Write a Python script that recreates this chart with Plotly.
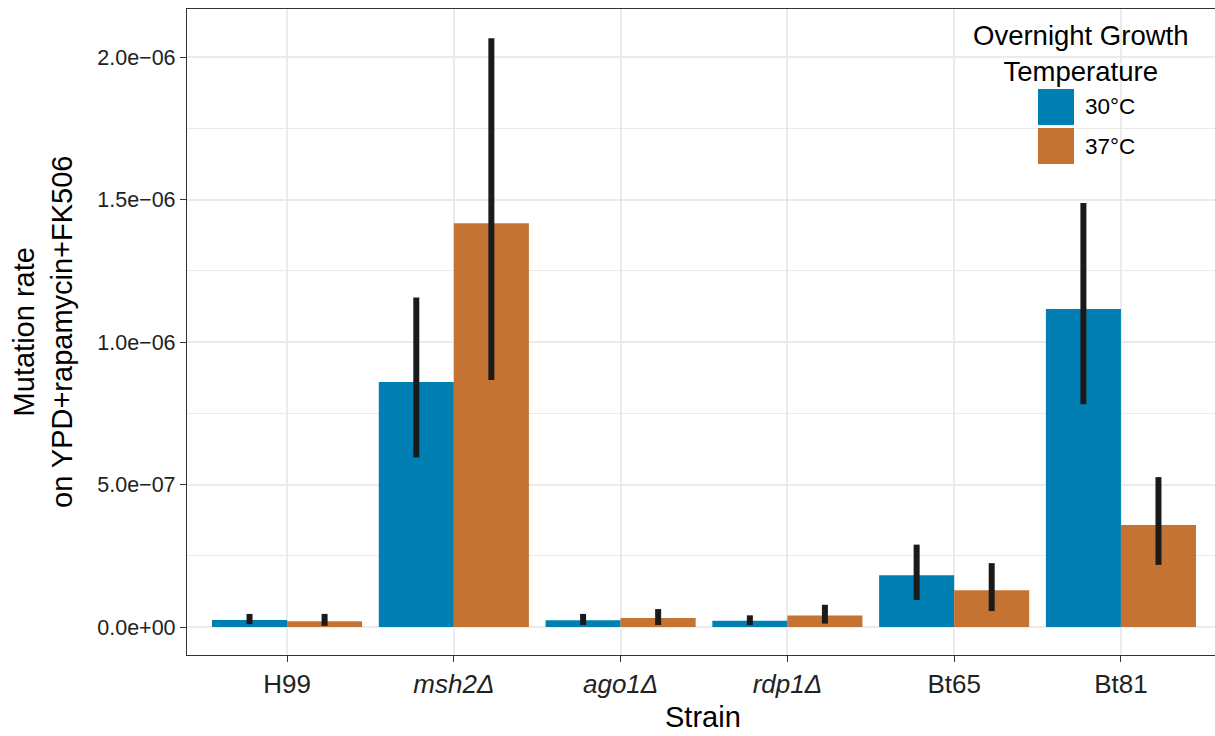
import plotly.graph_objects as go

# ---------------- data ----------------
strains = ["H99", "<i>msh2Δ</i>", "<i>ago1Δ</i>", "<i>rdp1Δ</i>", "Bt65", "Bt81"]
temps = ["30°C", "37°C"]

rate_30 = [0.025e-6, 0.860e-6, 0.024e-6, 0.022e-6, 0.182e-6, 1.116e-6]
low_30 = [0.010e-6, 0.595e-6, 0.007e-6, 0.007e-6, 0.095e-6, 0.782e-6]
high_30 = [0.046e-6, 1.156e-6, 0.046e-6, 0.041e-6, 0.289e-6, 1.488e-6]

rate_37 = [0.020e-6, 1.417e-6, 0.032e-6, 0.040e-6, 0.129e-6, 0.358e-6]
low_37 = [0.004e-6, 0.867e-6, 0.007e-6, 0.012e-6, 0.056e-6, 0.218e-6]
high_37 = [0.046e-6, 2.066e-6, 0.063e-6, 0.078e-6, 0.224e-6, 0.526e-6]

y_tickvals = [0, 0.5e-6, 1.0e-6, 1.5e-6, 2.0e-6]
y_ticktext = ["0.0e+00", "5.0e\u221207", "1.0e\u221206", "1.5e\u221206", "2.0e\u221206"]
y_minorvals = [0.25e-6, 0.75e-6, 1.25e-6, 1.75e-6]

colors = ["#0080B2", "#C57333"]
legend_title = "Overnight Growth<br>Temperature"
x_title = "Strain"
y_title = "Mutation rate<br>on YPD+rapamycin+FK506"

# ---------------- figure ----------------
# The panel in the reference runs a few pixels past the right edge of the
# 1215 px picture, so the figure is made slightly wider and the overflow hidden.
W, H = 1221, 736
L, R, T, B = 187, 0, 9, 81
PW, PH = W - L - R, H - T - B
FONT = "Liberation Sans, Arial, Helvetica, sans-serif"


def px(x):
    return (x - L) / PW


def py(y):
    return (T + PH - y) / PH


fig = go.Figure()
series = [(rate_30, low_30, high_30), (rate_37, low_37, high_37)]
for name, col, (v, lo, hi) in zip(temps, colors, series):
    fig.add_trace(go.Bar(
        x=strains, y=v, name=name, marker=dict(color=col, line=dict(width=0)),
        error_y=dict(type="data", symmetric=False,
                     array=[h - a for h, a in zip(hi, v)],
                     arrayminus=[a - l for a, l in zip(v, lo)],
                     color="#1A1A1A", thickness=6, width=0),
        showlegend=False,
    ))

fig.update_layout(
    width=W, height=H,
    margin=dict(l=L, r=R, t=T, b=B, pad=0),
    paper_bgcolor="white", plot_bgcolor="white",
    barmode="group", bargap=0.1, bargroupgap=0,
    font=dict(family=FONT, size=22, color="#333333"),
)

fig.update_xaxes(
    type="category", range=[-0.6, 5.6],
    showgrid=True, gridcolor="#EBEBEB", gridwidth=1.5,
    showline=True, linecolor="#333333", linewidth=1.2, mirror=True,
    ticks="outside", ticklen=6, tickcolor="#333333", tickwidth=1.2,
    tickfont=dict(size=26, color="#222222"),
)
fig.update_yaxes(
    range=[-0.0982e-6, 2.1684e-6],
    tickvals=y_tickvals, ticktext=y_ticktext,
    showgrid=True, gridcolor="#EBEBEB", gridwidth=1.5, zeroline=False,
    showline=True, linecolor="#333333", linewidth=1.2, mirror=False,
    ticks="outside", ticklen=6, tickcolor="#333333", tickwidth=1.2,
    tickfont=dict(size=21.5, color="#222222"),
    minor=dict(tickvals=y_minorvals, showgrid=True, gridcolor="#EBEBEB",
               gridwidth=0.8, ticks=""),
)

# axis titles
fig.add_annotation(text=x_title, xref="paper", yref="paper", x=px(703), y=py(717),
                   xanchor="center", yanchor="middle", showarrow=False,
                   font=dict(size=29, color="black"))
fig.add_annotation(text=y_title, xref="paper", yref="paper", x=px(43), y=py(332),
                   xanchor="center", yanchor="middle", showarrow=False, textangle=-90,
                   font=dict(size=29, color="black"))

# legend (drawn manually to match ggplot key sizes)
fig.add_annotation(text=legend_title, xref="paper", yref="paper", x=px(1081), y=py(53),
                   xanchor="center", yanchor="middle", showarrow=False,
                   font=dict(size=27.5, color="black"))
key_tops = [89, 128]
for name, col, top in zip(temps, colors, key_tops):
    fig.add_shape(type="rect", xref="paper", yref="paper",
                  x0=px(1038), x1=px(1074), y0=py(top + 36), y1=py(top),
                  fillcolor=col, line=dict(width=0))
    fig.add_annotation(text=name, xref="paper", yref="paper", x=px(1083), y=py(top + 18),
                       xanchor="left", yanchor="middle", showarrow=False,
                       font=dict(size=22.5, color="black"))

fig.write_html(
    "out.html",
    config={"displayModeBar": False},
    post_script="document.body.style.margin='0';document.body.style.overflow='hidden';"
                "document.documentElement.style.overflow='hidden';",
)
